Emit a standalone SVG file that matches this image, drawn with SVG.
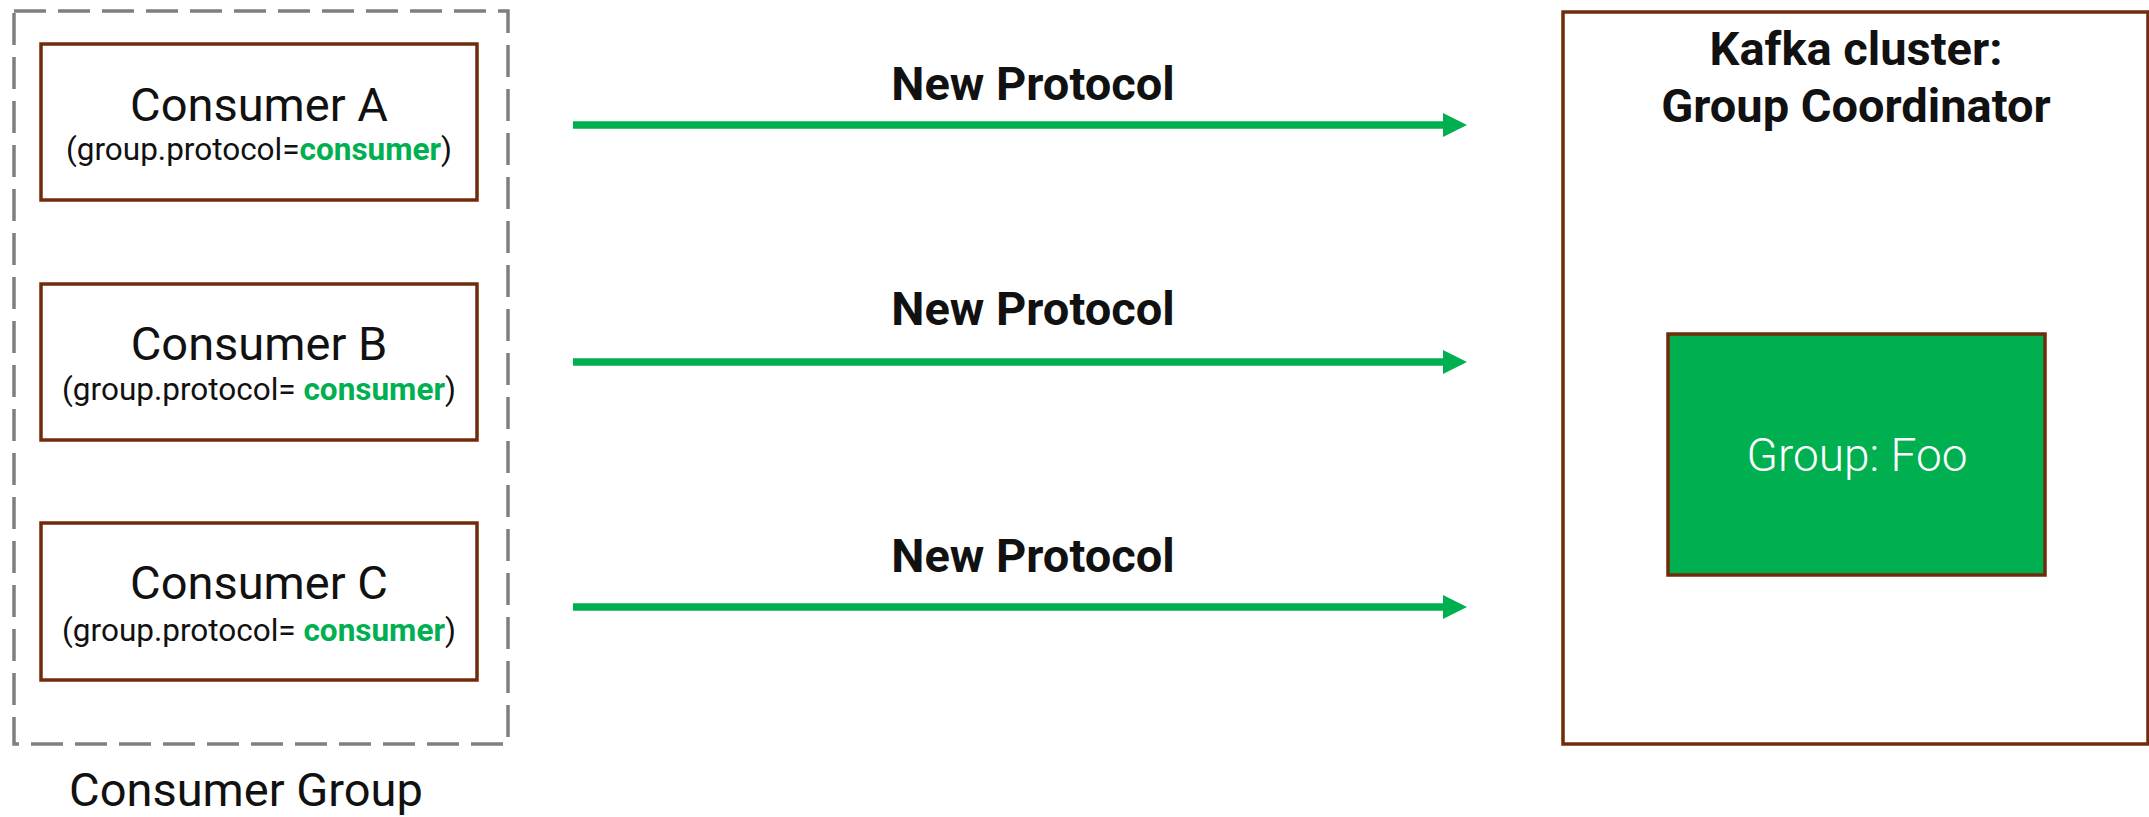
<svg xmlns="http://www.w3.org/2000/svg" width="2149" height="817" viewBox="0 0 2149 817">
  <defs>
    <style>
      .box { fill: #ffffff; stroke: #712b0b; stroke-width: 3.5; }
      .group { fill: none; stroke: #7f7f7f; stroke-width: 3.5; stroke-dasharray: 32 12; }
      .title { font-family: Roboto, "Liberation Sans", sans-serif; font-size: 47px; fill: #111111; text-anchor: middle; }
      .sub { font-family: Roboto, "Liberation Sans", sans-serif; font-size: 31.5px; fill: #111111; text-anchor: middle; }
      .hl { font-weight: 700; fill: #00b050; }
      .bold { font-family: Roboto, "Liberation Sans", sans-serif; font-size: 47px; font-weight: 700; fill: #111111; text-anchor: middle; }
      .conn { stroke: #00b050; stroke-width: 7.5; fill: none; }
    </style>
    <marker id="arrow" markerUnits="userSpaceOnUse" markerWidth="24" markerHeight="24" refX="0" refY="12" orient="auto" viewBox="0 0 24 24">
      <path d="M0,0 L24,12 L0,24 Z" fill="#00b050"/>
    </marker>
  </defs>
  <rect width="2149" height="817" fill="#ffffff"/>

  <g id="consumer-group">
    <rect class="group" x="14" y="11" width="494" height="733"/>
    <text class="title" x="246" y="806">Consumer Group</text>
  </g>

  <g id="consumer-a">
    <rect class="box" x="41" y="44" width="436" height="156"/>
    <text class="title" x="259" y="121">Consumer A</text>
    <text class="sub" x="259" y="160">(group.protocol=<tspan class="hl">consumer</tspan>)</text>
  </g>

  <g id="consumer-b">
    <rect class="box" x="41" y="284" width="436" height="156"/>
    <text class="title" x="259" y="360">Consumer B</text>
    <text class="sub" x="259" y="400">(group.protocol= <tspan class="hl">consumer</tspan>)</text>
  </g>

  <g id="consumer-c">
    <rect class="box" x="41" y="523" width="436" height="157"/>
    <text class="title" x="259" y="599">Consumer C</text>
    <text class="sub" x="259" y="641">(group.protocol= <tspan class="hl">consumer</tspan>)</text>
  </g>

  <g id="kafka-cluster">
    <rect class="box" x="1563" y="12" width="585" height="732"/>
    <text class="bold" x="1856" y="65">Kafka cluster:</text>
    <text class="bold" x="1856" y="122">Group Coordinator</text>
  </g>

  <g id="group-foo">
    <rect x="1668" y="334" width="377" height="241" fill="#00b050" stroke="#712b0b" stroke-width="3.5"/>
    <text x="1857" y="471" font-family="Roboto, 'Liberation Sans', sans-serif" font-size="46" font-weight="300" fill="#ffffff" text-anchor="middle">Group: Foo</text>
  </g>

  <g id="connectors">
    <line class="conn" x1="573" y1="125" x2="1443" y2="125" marker-end="url(#arrow)"/>
    <text class="bold" x="1033" y="100">New Protocol</text>
    <line class="conn" x1="573" y1="362" x2="1443" y2="362" marker-end="url(#arrow)"/>
    <text class="bold" x="1033" y="325">New Protocol</text>
    <line class="conn" x1="573" y1="607" x2="1443" y2="607" marker-end="url(#arrow)"/>
    <text class="bold" x="1033" y="572">New Protocol</text>
  </g>
</svg>
